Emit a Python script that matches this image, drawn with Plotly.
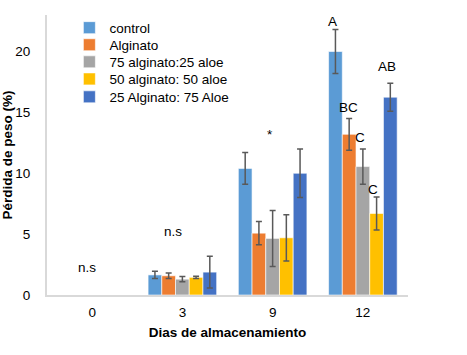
import plotly.graph_objects as go

days = ["0", "3", "9", "12"]
series_names = ["control", "Alginato", "75 alginato:25 aloe", "50 alginato: 50 aloe", "25 Alginato: 75 Aloe"]
colors = ["#5B9BD5", "#ED7D31", "#A5A5A5", "#FFC000", "#4472C4"]

control = [0, 1.65, 10.4, 20.0]
alginato = [0, 1.58, 5.08, 13.2]
a75_25 = [0, 1.3, 4.65, 10.55]
a50_50 = [0, 1.45, 4.7, 6.7]
a25_75 = [0, 1.88, 10.0, 16.25]

err_control = [0, 0.3, 1.3, 1.8]
err_alginato = [0, 0.23, 0.95, 1.3]
err_75_25 = [0, 0.22, 2.3, 1.45]
err_50_50 = [0, 0.1, 1.9, 1.36]
err_25_75 = [0, 1.3, 2.0, 1.15]

values = [control, alginato, a75_25, a50_50, a25_75]
errors = [err_control, err_alginato, err_75_25, err_50_50, err_25_75]

# annotations: text, category index, value, xshift px
labels_text = ["n.s", "n.s", "*", "A", "BC", "C", "C", "AB"]
labels_day = [0, 1, 2, 3, 3, 3, 3, 3]
labels_y = [2.3, 5.2, 13.2, 22.5, 15.4, 12.95, 8.66, 18.8]
labels_dx = [-5, -9, -3, -30, -14, -3, 10, 24]

FONT = "Liberation Sans, Arial"
FS = 13.5

legend_ids = ["legend", "legend2", "legend3", "legend4", "legend5"]
legend_y = [0.954, 0.893, 0.832, 0.771, 0.707]

fig = go.Figure()
for name, col, v, e, lid in zip(series_names, colors, values, errors, legend_ids):
    # zero-height bars (day 0) are drawn as empty, with no error whisker
    yv = [val if val > 0 else None for val in v]
    ev = [err if val > 0 else None for val, err in zip(v, e)]
    fig.add_trace(go.Bar(
        x=days, y=yv, name=name, legend=lid, showlegend=True,
        marker=dict(color=col, line=dict(color="rgba(255,255,255,0.6)", width=1)),
        error_y=dict(type="data", array=ev, visible=True, color="#595959", thickness=1.5, width=3),
    ))

for t, d, yv, dx in zip(labels_text, labels_day, labels_y, labels_dx):
    fig.add_annotation(x=d, y=yv, text=t, showarrow=False, xshift=dx,
                       font=dict(family=FONT, size=FS, color="#000000"))

legend_common = dict(x=0.062, xanchor="left", yanchor="middle",
                     bgcolor="rgba(0,0,0,0)", font=dict(size=FS),
                     itemwidth=30, borderwidth=0)
legends = {}
for lid, ly in zip(legend_ids, legend_y):
    legends[lid] = dict(legend_common, y=ly)

fig.update_layout(
    width=467, height=355,
    showlegend=True,
    margin=dict(l=47, r=59, t=15, b=60, autoexpand=False),
    paper_bgcolor="white", plot_bgcolor="white",
    barmode="group", bargap=0.24, bargroupgap=0,
    font=dict(family=FONT, size=FS, color="#000000"),
    xaxis=dict(
        type="category", range=[-0.5, 3.5], showgrid=False, showline=True, linecolor="#D9D9D9", linewidth=2,
        ticks="outside", ticklen=4, tickcolor="rgba(0,0,0,0)", automargin=True,
        title=dict(text="<b>Dias de almacenamiento</b>", font=dict(size=FS), standoff=8),
    ),
    yaxis=dict(
        range=[0, 23], tickvals=[0, 5, 10, 15, 20], showgrid=False, zeroline=False,
        showline=True, linecolor="#D9D9D9", linewidth=2,
        ticks="outside", ticklen=12, tickcolor="rgba(0,0,0,0)", automargin=True,
        title=dict(text="<b>Pérdida de peso (%)</b>", font=dict(size=FS), standoff=0),
    ),
    **legends,
)

fig.write_html("out.html", config={"displayModeBar": False},
               post_script="document.body.style.margin='0';")
